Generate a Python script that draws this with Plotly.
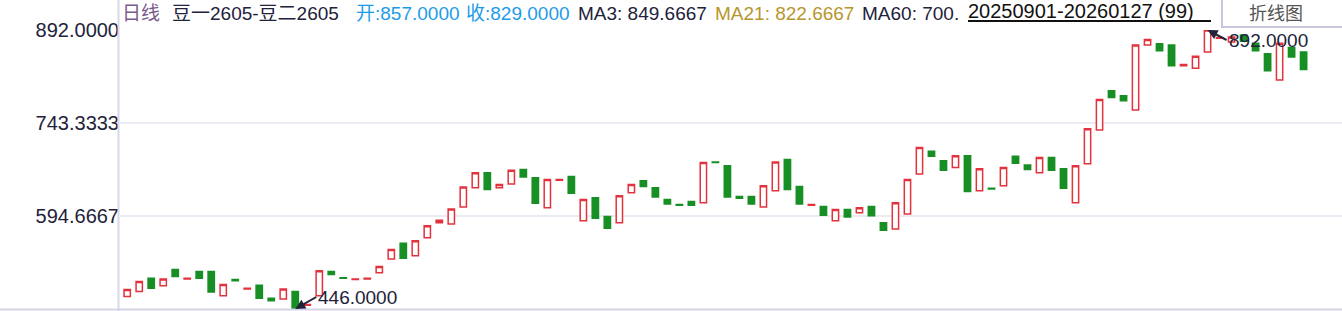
import plotly.graph_objects as go

# ---- data ----
opens = [466, 474, 495, 483, 509, 494, 506, 506, 467, 493,
         478, 484, 463, 462, 474, 452, 467, 506, 496, 493,
         494, 504, 526, 551, 531, 560, 584, 582, 609, 640,
         664, 640, 646, 669, 656, 608, 652, 658, 587, 624,
         594, 584, 632, 651, 640, 621, 613, 618, 616, 681,
         675, 626, 626, 609, 635, 685, 642, 612, 610, 587,
         605, 600, 610, 584, 574, 598, 662, 698, 683, 672,
         691, 635, 639, 643, 690, 676, 664, 688, 670, 616,
         678, 732, 795, 787, 764, 868, 870, 868, 835, 831,
         857, 879, 873, 884, 871, 854, 812, 864, 857]
closes = [477, 490, 479, 494, 498, 495, 495, 473, 485, 491,
          479, 463, 459, 478, 446, 453, 507, 501, 495, 494,
          495, 514, 541, 527, 555, 579, 588, 606, 641, 664,
          637, 645, 668, 657, 615, 653, 653, 631, 621, 591,
          575, 627, 645, 642, 625, 614, 612, 612, 680, 680,
          625, 623, 614, 643, 681, 637, 614, 613, 596, 605,
          593, 608, 595, 572, 616, 653, 704, 690, 668, 691,
          634, 670, 638, 672, 679, 669, 688, 668, 639, 675,
          734, 781, 784, 779, 868, 877, 859, 835, 837, 850,
          892, 880, 881, 874, 859, 827, 871, 849, 829]
idx = list(range(len(opens)))
highs = [max(o, c) for o, c in zip(opens, closes)]
lows = [min(o, c) for o, c in zip(opens, closes)]

y_min, y_max = 446.0, 892.0
tick_vals = [594.6667, 743.3333, 892.0]
tick_text = ["594.6667", "743.3333", "892.0000"]

header_parts = [
    ("日线", "#7b5a8c", 120),
    ("豆一2605-豆二2605", "#22223a", 170),
    ("开:857.0000", "#1e9be8", 354),
    ("收:829.0000", "#1e9be8", 464),
    ("MA3: 849.6667", "#22223a", 576),
    ("MA21: 822.6667", "#b8962e", 713),
    ("MA60: 700.", "#22223a", 860),
]
date_range = "20250901-20260127 (99)"
button_label = "折线图"
min_label = "446.0000"
max_label = "892.0000"

# ---- layout helpers (pixel -> paper) ----
L, R, T, B = 120, 0, 30, 2
W, H = 1342, 311
PW, PH = W - L - R, H - T - B
def px(x):
    return (x - L) / PW
def py(y):
    return (H - B - y) / PH

FONT = "Arial, 'Liberation Sans', 'Noto Sans CJK SC', sans-serif"
RED = "#e2323c"
GREEN = "#178f24"
NAVY = "#22223a"

fig = go.Figure()
fig.add_trace(go.Candlestick(
    x=idx, open=opens, high=highs, low=lows, close=closes,
    increasing=dict(line=dict(color=RED, width=1.5), fillcolor="white"),
    decreasing=dict(line=dict(color=GREEN, width=1.5), fillcolor=GREEN),
    whiskerwidth=0, showlegend=False, hoverinfo="skip",
))

annotations = []
for txt, col, x0 in header_parts:
    annotations.append(dict(text=txt, x=px(x0), y=py(14), xref="paper", yref="paper",
                            xanchor="left", yanchor="middle", showarrow=False,
                            font=dict(size=19, color=col, family=FONT)))
annotations.append(dict(text=date_range, x=px(966), y=py(11), xref="paper", yref="paper",
                        xanchor="left", yanchor="middle", showarrow=False,
                        font=dict(size=20, color="#111111", family=FONT)))
annotations.append(dict(text=button_label, x=px(1276), y=py(14), xref="paper", yref="paper",
                        xanchor="center", yanchor="middle", showarrow=False,
                        font=dict(size=18, color="#555555", family=FONT)))
annotations.append(dict(text=min_label, x=idx[closes.index(min(closes))], y=min(lows),
                        xref="x", yref="y", showarrow=True, arrowhead=2, arrowsize=1,
                        arrowwidth=2, arrowcolor=NAVY, ax=21, ay=-12,
                        xanchor="left", yanchor="middle",
                        font=dict(size=19, color=NAVY, family=FONT)))
annotations.append(dict(text=max_label, x=idx[highs.index(max(highs))], y=max(highs),
                        xref="x", yref="y", showarrow=True, arrowhead=2, arrowsize=1,
                        arrowwidth=2, arrowcolor=NAVY, ax=19, ay=10,
                        xanchor="left", yanchor="middle",
                        font=dict(size=19, color=NAVY, family=FONT)))

shapes = [
    dict(type="line", xref="paper", yref="paper", x0=px(118.5), x1=px(118.5),
         y0=py(311), y1=py(0), line=dict(color="#d8d8ea", width=2), layer="above"),
    dict(type="line", xref="paper", yref="paper", x0=px(0), x1=px(1342),
         y0=py(309.5), y1=py(309.5), line=dict(color="#d4d4e6", width=2), layer="above"),
    dict(type="line", xref="paper", yref="paper", x0=px(968), x1=px(1211),
         y0=py(21), y1=py(21), line=dict(color="#111111", width=2)),
    dict(type="rect", xref="paper", yref="paper", x0=px(1222), x1=px(1343),
         y0=py(27), y1=py(-2), line=dict(color="#c8c8dc", width=2), fillcolor="white"),
]

fig.update_layout(
    width=W, height=H,
    margin=dict(l=L, r=R, t=T, b=B, pad=0),
    paper_bgcolor="white", plot_bgcolor="white",
    font=dict(family=FONT, color=NAVY),
    boxgap=0.25,
    xaxis=dict(range=[-0.6, 101.2], showgrid=False, zeroline=False,
               showticklabels=False, ticks="", rangeslider=dict(visible=False),
               showline=False, fixedrange=True),
    yaxis=dict(range=[y_min, y_max], tickvals=tick_vals, ticktext=tick_text,
               showgrid=True, gridcolor="#ebebf3", gridwidth=1.5, zeroline=False,
               ticks="", showline=False, tickfont=dict(size=20, color=NAVY, family=FONT),
               fixedrange=True),
    annotations=annotations, shapes=shapes,
    showlegend=False,
)

fig.write_html("out.html", config={"displayModeBar": False})
